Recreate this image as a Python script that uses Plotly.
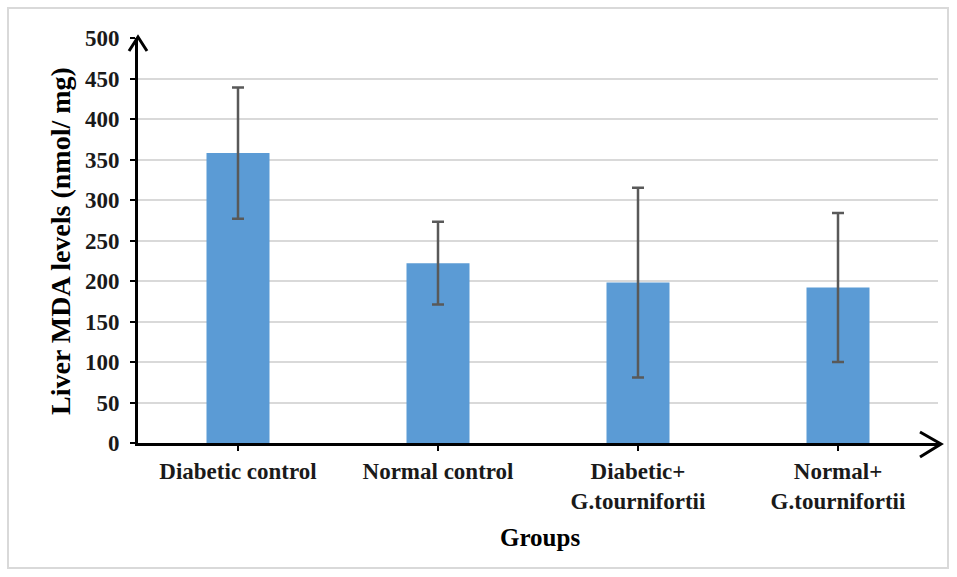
import plotly.graph_objects as go

categories = ["Diabetic control", "Normal control", "Diabetic+<br>G.tournifortii", "Normal+<br>G.tournifortii"]
mda_values = [358, 222, 198, 192]
mda_errors = [81, 51, 117, 92]
y_ticks = [0, 50, 100, 150, 200, 250, 300, 350, 400, 450, 500]

W, H = 957, 577
L, R, T, B = 138, 19, 38, 134
pw, ph = W - L - R, H - T - B

def px(xp):
    return (xp - L) / pw

def py(yp):
    return 1 - (yp - T) / ph

font_fam = "Liberation Serif, Times New Roman, serif"

fig = go.Figure()
fig.add_trace(go.Bar(
    x=categories, y=mda_values,
    marker=dict(color="#5B9BD5", line=dict(width=0)),
    width=0.315,
    error_y=dict(type="data", array=mda_errors, visible=True,
                 color="#595959", thickness=2.5, width=6),
))

shapes = [
    # outer border
    dict(type="rect", xref="paper", yref="paper",
         x0=px(8), x1=px(948), y0=py(568), y1=py(8),
         line=dict(color="#D9D9D9", width=2), fillcolor="rgba(0,0,0,0)", layer="below"),
    # y arrow head
    dict(type="path", xref="paper", yref="paper",
         path=f"M {px(129)} {py(51)} L {px(138)} {py(37)} L {px(147)} {py(51)}",
         line=dict(color="black", width=3)),
    # x axis extension + arrow head
    dict(type="line", xref="paper", yref="paper",
         x0=px(936), x1=px(940), y0=py(444), y1=py(444),
         line=dict(color="black", width=3)),
    dict(type="path", xref="paper", yref="paper",
         path=f"M {px(920)} {py(432)} L {px(941)} {py(444)} L {px(920)} {py(457)}",
         line=dict(color="black", width=3)),
]

annotations = [
    dict(text="<b>Liver MDA levels (nmol/ mg)</b>", xref="paper", yref="paper",
         x=px(60), y=py(241), showarrow=False, textangle=-90,
         font=dict(family=font_fam, size=28, color="black"),
         xanchor="center", yanchor="middle"),
    dict(text="<b>Groups</b>", xref="paper", yref="paper",
         x=px(540), y=py(537), showarrow=False,
         font=dict(family=font_fam, size=25, color="black"),
         xanchor="center", yanchor="middle"),
]

fig.update_layout(
    width=W, height=H,
    margin=dict(l=L, r=R, t=T, b=B, pad=0),
    paper_bgcolor="white", plot_bgcolor="white",
    showlegend=False,
    shapes=shapes, annotations=annotations,
    bargap=0.685,
    xaxis=dict(
        showline=True, linecolor="black", linewidth=3,
        ticks="outside", ticklen=5, tickwidth=2, tickcolor="black",
        tickfont=dict(family=font_fam, size=23, color="#1a1a1a", weight="bold"),
        ticklabelstandoff=0,
        showgrid=False, zeroline=False,
    ),
    yaxis=dict(
        range=[0, 500],
        tickvals=y_ticks,
        showline=True, linecolor="black", linewidth=3,
        ticks="outside", ticklen=5, tickwidth=2, tickcolor="black",
        tickfont=dict(family=font_fam, size=23, color="#1a1a1a", weight="bold"),
        ticklabelstandoff=6,
        showgrid=True, gridcolor="#D9D9D9", gridwidth=2,
        zeroline=False,
    ),
)

fig.write_html("out.html")
